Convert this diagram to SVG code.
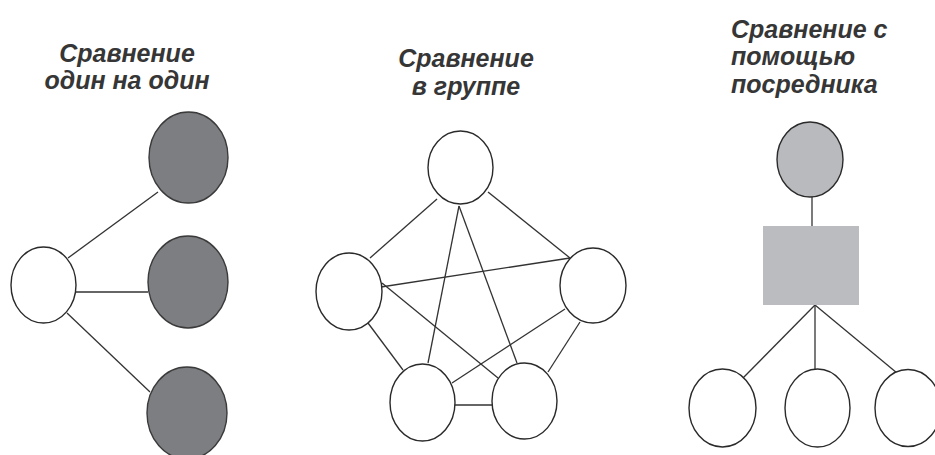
<svg xmlns="http://www.w3.org/2000/svg" width="935" height="455" viewBox="0 0 935 455">
<style>
.t{font-family:"Liberation Sans",Arial,sans-serif;font-weight:bold;font-style:italic;font-size:25px;fill:#363636}
.c{fill:#fff;stroke:#2a2a2a;stroke-width:1.4}
.d{fill:#7d7e82;stroke:#3a3a3a;stroke-width:1.4}
.g{fill:#b9babd;stroke:#2a2a2a;stroke-width:1.4}
.l{stroke:#333;stroke-width:1.3;fill:none}
</style>
<rect width="935" height="455" fill="#fff"/>
<g id="titles">
<text class="t" x="127" y="62" text-anchor="middle">Сравнение</text>
<text class="t" x="127" y="89" text-anchor="middle">один на один</text>
<text class="t" x="466" y="67" text-anchor="middle">Сравнение</text>
<text class="t" x="466" y="95" text-anchor="middle">в группе</text>
<text class="t" x="731" y="38">Сравнение с</text>
<text class="t" x="731" y="65">помощью</text>
<text class="t" x="731" y="93">посредника</text>
</g>
<g id="connectors">
<line class="l" x1="68" y1="258" x2="158" y2="192"/>
<line class="l" x1="76" y1="292" x2="148" y2="292"/>
<line class="l" x1="67" y1="313" x2="150" y2="392"/>
<line class="l" x1="437" y1="199" x2="370" y2="258"/>
<line class="l" x1="488" y1="192" x2="570" y2="258"/>
<line class="l" x1="459" y1="206" x2="428" y2="363"/>
<line class="l" x1="459" y1="206" x2="517" y2="363"/>
<line class="l" x1="381" y1="287" x2="570" y2="258"/>
<line class="l" x1="382" y1="283" x2="498" y2="378"/>
<line class="l" x1="565" y1="309" x2="452" y2="383"/>
<line class="l" x1="368" y1="323" x2="403" y2="370"/>
<line class="l" x1="580" y1="322" x2="548" y2="372"/>
<line class="l" x1="455" y1="405" x2="492" y2="405"/>
<line class="l" x1="812" y1="197" x2="812" y2="227"/>
<line class="l" x1="815" y1="305" x2="743" y2="378"/>
<line class="l" x1="815" y1="305" x2="815" y2="369"/>
<line class="l" x1="815" y1="305" x2="897" y2="373"/>
</g>
<g id="p1-center"><ellipse class="c" cx="43.5" cy="285" rx="32.5" ry="38"/></g>
<g id="p1-top"><ellipse class="d" cx="188.5" cy="157.5" rx="39.5" ry="45.5"/></g>
<g id="p1-mid"><ellipse class="d" cx="188" cy="282" rx="40" ry="46"/></g>
<g id="p1-bot"><ellipse class="d" cx="187" cy="413" rx="40" ry="46"/></g>
<g id="p2-top"><ellipse class="c" cx="460.5" cy="167.5" rx="32.5" ry="36.5"/></g>
<g id="p2-left"><ellipse class="c" cx="349" cy="291.5" rx="33" ry="38.5"/></g>
<g id="p2-right"><ellipse class="c" cx="593" cy="285.5" rx="33" ry="37.5"/></g>
<g id="p2-bl"><ellipse class="c" cx="422.5" cy="402.5" rx="32.5" ry="38.5"/></g>
<g id="p2-br"><ellipse class="c" cx="524.5" cy="401" rx="32.5" ry="38"/></g>
<g id="p3-top"><ellipse class="g" cx="810" cy="159.5" rx="33" ry="37.5"/></g>
<g id="p3-mediator"><rect x="763" y="226" width="96" height="79" fill="#bbbcbf"/></g>
<g id="p3-left"><ellipse class="c" cx="722.5" cy="408" rx="33.5" ry="39"/></g>
<g id="p3-mid"><ellipse class="c" cx="817.5" cy="408" rx="32.5" ry="39"/></g>
<g id="p3-right"><ellipse class="c" cx="908" cy="408" rx="33" ry="38.5"/></g>
</svg>
